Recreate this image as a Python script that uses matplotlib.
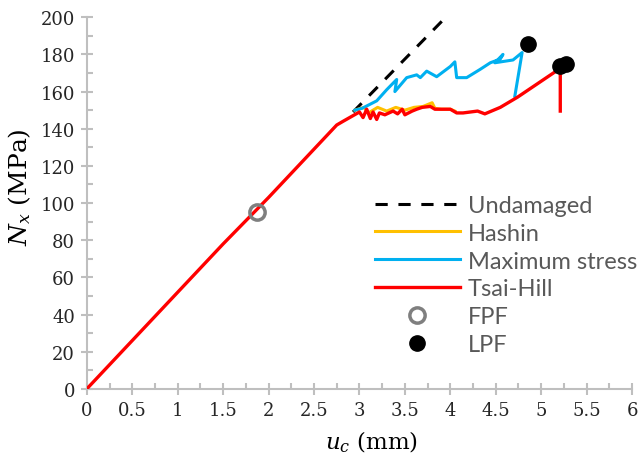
import matplotlib
matplotlib.use("Agg")
import matplotlib.pyplot as plt
from matplotlib.ticker import MultipleLocator

# Tsai-Hill (red)
th_u = [0, 0.5, 1.0, 1.5, 2.0, 2.5, 2.75, 2.82, 3.0, 3.04, 3.08, 3.12, 3.15, 3.19, 3.22, 3.28,
        3.37, 3.42, 3.47, 3.5, 3.58, 3.63, 3.69, 3.78, 3.83, 3.89, 4.0, 4.07, 4.14, 4.3, 4.38,
        4.55, 4.74, 5.21, 5.21]
th_n = [0, 26, 52, 78, 103, 129, 142, 144, 149, 146, 150.5, 145.5, 149, 145, 148.5, 147.5,
        149.5, 148, 150.5, 147.5, 149.5, 150.5, 151.5, 152, 150.5, 150.5, 150.5, 148.5, 148.5, 149.5, 148,
        151.5, 157, 172.5, 149.5]

# Maximum stress (blue)
ms_u = [2.95, 3.03, 3.19, 3.3, 3.41, 3.39, 3.52, 3.63, 3.67, 3.74, 3.85, 4.0, 4.05, 4.07,
        4.18, 4.33, 4.44, 4.55, 4.58, 4.49, 4.69, 4.79, 4.71]
ms_n = [150, 151, 155, 161, 166.5, 160, 167.5, 169, 167.5, 171, 168, 173.5, 176, 167.5,
        167.5, 172, 175.5, 177.5, 180, 175.5, 177, 181, 157.5]

# Hashin (yellow)
ha_u = [2.95, 3.05, 3.1, 3.2, 3.3, 3.4, 3.5, 3.6, 3.7, 3.8, 3.83, 3.9, 4.0, 4.05]
ha_n = [150, 151.5, 148.5, 151.5, 149.5, 151.5, 150, 151.5, 152, 154, 151, 150.5, 150.5, 149.5]

# Undamaged (dashed)
ud_u = [2.93, 3.95]
ud_n = [149, 200]

fpf_u = [1.87]
fpf_n = [95]
lpf_u = [4.86, 5.21, 5.27]
lpf_n = [185.5, 173.5, 175]

xt = [0, 0.5, 1, 1.5, 2, 2.5, 3, 3.5, 4, 4.5, 5, 5.5, 6]

plt.rcParams['mathtext.fontset'] = 'dejavuserif'

fig = plt.figure(figsize=(6.43, 4.56), dpi=100)
ax = fig.add_axes([0.135, 0.145, 0.848, 0.815])

ax.plot(ud_u, ud_n, color='black', lw=2.2, linestyle=(0, (4, 3.5)), label='Undamaged', zorder=3)
ax.plot(ha_u, ha_n, color='#FFC000', lw=2.2, label='Hashin', zorder=3)
ax.plot(ms_u, ms_n, color='#00B0F0', lw=2.2, label='Maximum stress', zorder=4)
ax.plot(th_u, th_n, color='#FF0000', lw=2.4, label='Tsai-Hill', zorder=5)
ax.plot(fpf_u, fpf_n, 'o', ms=11, mfc='none', mec='#7F7F7F', mew=2.5, label='FPF', zorder=6)
ax.plot(lpf_u, lpf_n, 'o', ms=11, color='black', label='LPF', zorder=6)

ax.set_xlim(0, 6)
ax.set_ylim(0, 200)
ax.set_xticks(xt)
ax.set_xticklabels([f"{v:g}" for v in xt])
ax.xaxis.set_minor_locator(MultipleLocator(0.25))
ax.yaxis.set_major_locator(MultipleLocator(20))
ax.yaxis.set_minor_locator(MultipleLocator(10))

for s in ['top', 'right']:
    ax.spines[s].set_visible(False)
for s in ['left', 'bottom']:
    ax.spines[s].set_color('#BFBFBF')
    ax.spines[s].set_linewidth(1.5)
ax.tick_params(which='major', direction='inout', length=9, width=1.5, color='#BFBFBF',
               labelsize=13, labelcolor='#262626', pad=4)
ax.tick_params(which='minor', direction='in', length=4.5, width=1.5, color='#BFBFBF')
for lab in ax.get_xticklabels() + ax.get_yticklabels():
    lab.set_family('DejaVu Serif')

ax.set_xlabel(r'$u_c$ (mm)', fontsize=16.5, family='DejaVu Serif')
ax.set_ylabel(r'$N_x$ (MPa)', fontsize=18, family='DejaVu Serif')
ax.xaxis.set_label_coords(0.523, -0.142)
ax.yaxis.set_label_coords(-0.123, 0.546)
ax.xaxis.label.set_va('center')
ax.yaxis.label.set_va('center')

leg = ax.legend(loc='upper left', bbox_to_anchor=(0.528, 0.522), frameon=False,
                borderpad=0, borderaxespad=0,
                handlelength=3.6, handletextpad=0.35, labelspacing=0.29,
                prop={'family': 'Lato', 'size': 17})
for t in leg.get_texts():
    t.set_color('#595959')

fig.savefig('out.png', dpi=100)
